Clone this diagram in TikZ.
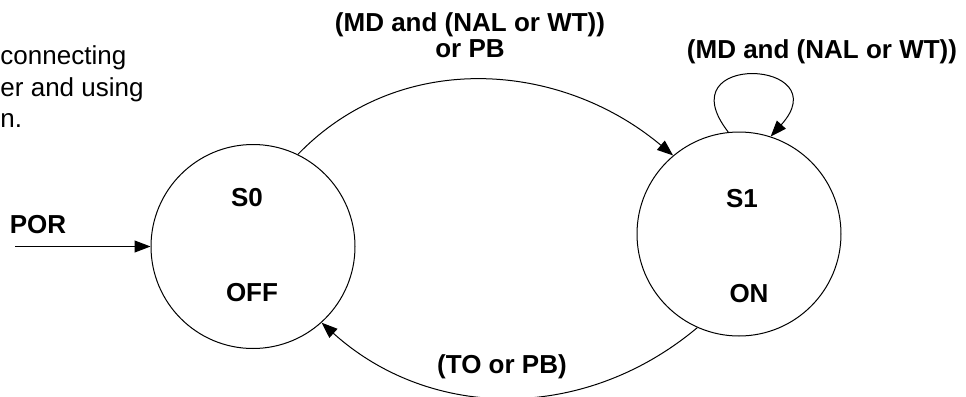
\documentclass[tikz,border=0pt]{standalone}
\usepackage{fontspec}
\setmainfont{Liberation Sans}
\usetikzlibrary{arrows.meta}

\begin{document}
\begin{tikzpicture}[x=0.5pt,y=0.5pt,line width=0.5pt,
  state/.style={circle,draw,inner sep=0pt,minimum size=102pt},
  lbl/.style={font=\bfseries\fontsize{13}{13}\selectfont,inner sep=0pt},
  tip/.style={-{Triangle[length=8pt,width=6pt]}}]
  \useasboundingbox (0,0) rectangle (966,-397);
  \node[state] (s0) at (253,-246.5) {};
  \node[state] (s1) at (739,-234) {};
  \node[lbl,anchor=base] (s0name) at (247,-206) {S0};
  \node[lbl,anchor=base] (s0out) at (252,-301) {OFF};
  \node[lbl,anchor=base] (s1name) at (742,-207) {S1};
  \node[lbl,anchor=base] (s1out) at (749,-302) {ON};
  \node[lbl,anchor=base] (por) at (38,-233) {POR};
  \coordinate (porstart) at (15,-246.5);
  \node[lbl,align=center] (go) at (470,-35.5) {(MD and (NAL or WT))\\or PB};
  \node[lbl,anchor=base] (stay) at (822,-58) {(MD and (NAL or WT))};
  \node[lbl,anchor=base] (back) at (502,-373) {(TO or PB)};
  \node[anchor=north west,align=left,inner sep=0pt,font=\fontsize{13}{15.75}\selectfont] (note) at (0,-45.4) {connecting\\er and using\\n.};
  \path[tip]
    (porstart) edge (s0)
    (s0.64) edge[out=46,in=140] (s1.130)
    (s1.246) edge[out=220,in=-42] (s0.312)
    (s1.96) edge[out=128,in=48,looseness=6.2] (s1.72);
\end{tikzpicture}
\end{document}
